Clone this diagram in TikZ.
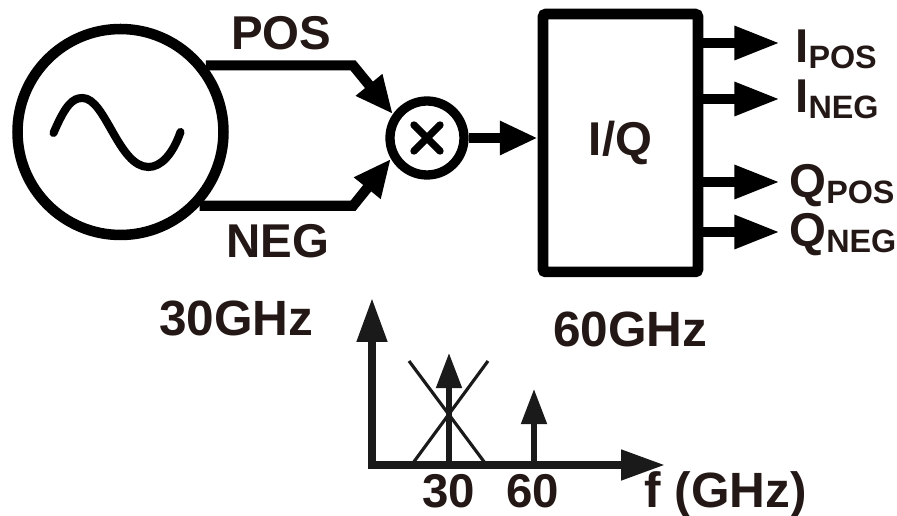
\documentclass[tikz,border=0pt]{standalone}
\usepackage{fontspec}
\setmainfont{Liberation Sans}
\usetikzlibrary{arrows.meta}
\definecolor{labelink}{HTML}{231815}
\definecolor{plotink}{HTML}{1A1A1A}
\newcommand{\subtxt}[2]{#1\raisebox{-2.9pt}{\fontsize{18.4}{18.4}\selectfont #2}}
\begin{document}
\begin{tikzpicture}[
		x=0.02cm,y=-0.02cm,
		sinewave/.pic={\draw[line width=4.6pt,line cap=round] (-67,1) .. controls (-55,-27) and (-48,-34) .. (-38,-34) .. controls (-15,-34) and (-2,35) .. (28,35) .. controls (40,35) and (52,23) .. (60,0);},
		crossmark/.pic={\draw[line width=4.2pt,line cap=round] (-13,-13) -- (13,13) (-13,13) -- (13,-13);},
		wire/.style={line width=5.8pt,-{Triangle[length=21.5pt,width=18pt]}},
		outarrow/.style={line width=5.8pt,-{Triangle[length=26pt,width=18pt]}},
		axisarrow/.style={line width=4.4pt,plotink,{Triangle[length=25pt,width=16.5pt]}-{Triangle[length=25pt,width=16.5pt]}},
		tonearrow/.style={line width=3pt,plotink,-{Triangle[length=20pt,width=14.2pt]}},
		lbl/.style={inner sep=0pt,anchor=base west,text=labelink,font=\fontsize{27}{27}\bfseries},
		biglbl/.style={lbl,font=\fontsize{28.2}{28.2}\bfseries},
	]
	\useasboundingbox (0,0) rectangle (897,516);
	\node[draw,circle,line width=6pt,minimum size=4.12cm,inner sep=0pt] (src) at (120.5,132) {};
	\pic at (src) {sinewave};
	\node[draw,circle,line width=5.3pt,minimum size=1.48cm,inner sep=0pt] (mixer) at (427,138) {};
	\pic at (mixer) {crossmark};
	\node[draw,rectangle,rounded corners=1.5pt,line width=6pt,minimum width=3.1cm,minimum height=5.16cm,inner sep=0pt,text=labelink,font=\fontsize{27}{27}\bfseries] (iq) at (620.5,143) {I/Q};
	\coordinate (posbend) at (353,66);
	\coordinate (negbend) at (353,205);
	\draw[wire] (src.38) -- (src.38 -| posbend) -- (mixer.145);
	\draw[wire] (src.-43) -- (src.-43 -| negbend) -- (mixer.210);
	\draw[wire] (mixer.east) -- (mixer.east -| iq.west);
	\foreach \tipname/\tipy in {ipos/43,ineg/99,qpos/182,qneg/232}{
		\coordinate (\tipname) at (780,\tipy);
		\draw[outarrow] (\tipname -| iq.east) -- (\tipname);
	}
	\node[lbl] (poslbl) at (231,50) {POS};
	\node[lbl] (neglbl) at (226,258) {NEG};
	\node[lbl] (iposlbl) at (795,63) {\subtxt{I}{POS}};
	\node[lbl] (ineglbl) at (795,113) {\subtxt{I}{NEG}};
	\node[lbl] (qposlbl) at (789,198) {\subtxt{Q}{POS}};
	\node[lbl] (qneglbl) at (789,247) {\subtxt{Q}{NEG}};
	\node[biglbl] (lowfreq) at (159,336) {30GHz};
	\node[biglbl] (highfreq) at (553,347) {60GHz};
	% spectrum
	\coordinate (origin) at (372,465);
	\coordinate (ytip) at (372,298);
	\coordinate (xtip) at (665,465);
	\coordinate (lowtip) at (449,353);
	\coordinate (hightip) at (534,389);
	\draw[axisarrow] (ytip) -- (origin) -- (xtip);
	\draw[tonearrow] (origin -| lowtip) -- (lowtip);
	\draw[tonearrow] (origin -| hightip) -- (hightip);
	\draw[line width=1.8pt,plotink] (409,361) -- (485,463) (488,361) -- (413,463);
	\node[lbl,anchor=base] (lowtick) at (449,508) {30};
	\node[lbl,anchor=base] (hightick) at (533,508) {60};
	\node[biglbl] (xname) at (644,508) {f (GHz)};
\end{tikzpicture}
\end{document}
